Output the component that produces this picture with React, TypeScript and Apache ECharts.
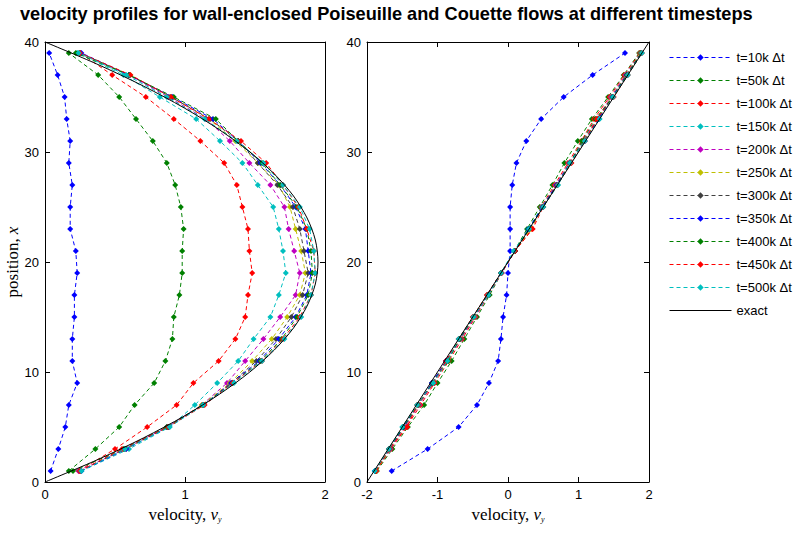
import React, { useEffect, useRef } from 'react';
import * as echarts from 'echarts';

const TITLE = 'velocity profiles for wall-enclosed Poiseuille and Couette flows at different timesteps';
const NAMES = ['t=10k Δt', 't=50k Δt', 't=100k Δt', 't=150k Δt', 't=200k Δt', 't=250k Δt', 't=300k Δt', 't=350k Δt', 't=400k Δt', 't=450k Δt', 't=500k Δt'];
const COLORS = ['#0000FF', '#008000', '#FF0000', '#00BFBF', '#BF00BF', '#BFBF00', '#404040', '#0000FF', '#008000', '#FF0000', '#00BFBF'];

const Y_POS = [1, 3, 5, 7, 9, 11, 13, 15, 17, 19, 21, 23, 25, 27, 29, 31, 33, 35, 37, 39];

// Poiseuille velocity at each position, one array per timestep
const P10 = [0.04, 0.095, 0.145, 0.17, 0.23, 0.195, 0.195, 0.21, 0.21, 0.23, 0.22, 0.18, 0.18, 0.195, 0.17, 0.18, 0.155, 0.14, 0.09, 0.03];
const P50 = [0.17, 0.36, 0.53, 0.64, 0.78, 0.86, 0.91, 0.92, 0.96, 0.98, 0.98, 0.99, 0.97, 0.93, 0.87, 0.77, 0.65, 0.53, 0.38, 0.17];
const P100 = [0.24, 0.5, 0.73, 0.94, 1.06, 1.24, 1.36, 1.43, 1.45, 1.48, 1.46, 1.45, 1.41, 1.37, 1.28, 1.11, 0.92, 0.72, 0.48, 0.25];
const P150 = [0.26, 0.6, 0.89, 1.07, 1.23, 1.38, 1.49, 1.61, 1.67, 1.72, 1.7, 1.67, 1.63, 1.52, 1.41, 1.25, 1.08, 0.82, 0.56, 0.23];
const P200 = [0.24, 0.57, 0.87, 1.12, 1.3, 1.43, 1.56, 1.68, 1.79, 1.82, 1.78, 1.74, 1.71, 1.61, 1.46, 1.32, 1.15, 0.88, 0.6, 0.25];
const P250 = [0.25, 0.58, 0.88, 1.12, 1.32, 1.48, 1.62, 1.73, 1.82, 1.86, 1.83, 1.79, 1.75, 1.67, 1.52, 1.36, 1.17, 0.9, 0.61, 0.25];
const P300 = [0.25, 0.57, 0.88, 1.13, 1.33, 1.51, 1.65, 1.76, 1.84, 1.88, 1.85, 1.82, 1.77, 1.66, 1.52, 1.38, 1.18, 0.9, 0.6, 0.25];
const P350 = [0.26, 0.58, 0.88, 1.13, 1.33, 1.53, 1.67, 1.79, 1.87, 1.9, 1.88, 1.86, 1.79, 1.68, 1.54, 1.38, 1.2, 0.91, 0.6, 0.26];
const P400 = [0.2, 0.56, 0.87, 1.13, 1.34, 1.54, 1.69, 1.8, 1.88, 1.91, 1.9, 1.87, 1.8, 1.68, 1.55, 1.38, 1.22, 0.92, 0.6, 0.22];
const P450 = [0.25, 0.55, 0.88, 1.14, 1.34, 1.55, 1.7, 1.82, 1.9, 1.93, 1.92, 1.87, 1.81, 1.7, 1.58, 1.4, 1.17, 0.9, 0.61, 0.25];
const P500 = [0.26, 0.57, 0.89, 1.13, 1.35, 1.55, 1.71, 1.83, 1.9, 1.93, 1.92, 1.89, 1.82, 1.7, 1.56, 1.37, 1.14, 0.87, 0.58, 0.24];
const EXACT_POS = [0, 2, 4, 6, 8, 10, 12, 14, 16, 18, 20, 22, 24, 26, 28, 30, 32, 34, 36, 38, 40];
const P_EXACT = [0, 0.37, 0.702, 0.995, 1.248, 1.463, 1.638, 1.775, 1.872, 1.931, 1.95, 1.931, 1.872, 1.775, 1.638, 1.463, 1.248, 0.995, 0.702, 0.37, 0];

// Couette velocity at each position, one array per timestep
const C10 = [-1.65, -1.14, -0.7, -0.44, -0.27, -0.14, -0.1, -0.07, -0.02, 0.0, 0.03, 0.03, 0.03, 0.06, 0.12, 0.26, 0.47, 0.79, 1.2, 1.66];
const C50 = [-1.86, -1.64, -1.42, -1.19, -1.0, -0.8, -0.62, -0.44, -0.26, -0.09, 0.09, 0.27, 0.45, 0.63, 0.8, 0.99, 1.19, 1.42, 1.64, 1.86];
const C100 = [-1.87, -1.66, -1.44, -1.24, -1.04, -0.84, -0.65, -0.46, -0.28, -0.09, 0.1, 0.34, 0.47, 0.66, 0.85, 1.04, 1.22, 1.44, 1.65, 1.87];
const C150 = [-1.88, -1.68, -1.47, -1.27, -1.07, -0.87, -0.67, -0.48, -0.29, -0.1, 0.1, 0.29, 0.48, 0.68, 0.87, 1.07, 1.27, 1.47, 1.67, 1.88];
const C200 = [-1.88, -1.67, -1.46, -1.26, -1.06, -0.86, -0.67, -0.47, -0.28, -0.09, 0.1, 0.31, 0.49, 0.68, 0.87, 1.06, 1.26, 1.46, 1.67, 1.88];
const C250 = [-1.87, -1.68, -1.47, -1.27, -1.07, -0.87, -0.68, -0.48, -0.29, -0.1, 0.1, 0.32, 0.49, 0.69, 0.88, 1.08, 1.27, 1.47, 1.68, 1.88];
const C300 = [-1.88, -1.68, -1.48, -1.28, -1.08, -0.88, -0.68, -0.49, -0.29, -0.1, 0.1, 0.3, 0.49, 0.69, 0.89, 1.08, 1.28, 1.48, 1.68, 1.89];
const C350 = [-1.89, -1.69, -1.48, -1.28, -1.08, -0.88, -0.69, -0.49, -0.29, -0.1, 0.1, 0.29, 0.49, 0.69, 0.88, 1.09, 1.29, 1.48, 1.69, 1.89];
const C400 = [-1.88, -1.69, -1.49, -1.28, -1.07, -0.85, -0.69, -0.49, -0.29, -0.1, 0.1, 0.3, 0.5, 0.7, 0.88, 1.05, 1.24, 1.49, 1.69, 1.89];
const C450 = [-1.87, -1.69, -1.43, -1.29, -1.05, -0.88, -0.7, -0.5, -0.3, -0.1, 0.1, 0.35, 0.5, 0.7, 0.9, 1.09, 1.26, 1.5, 1.7, 1.9];
const C500 = [-1.89, -1.69, -1.5, -1.29, -1.06, -0.86, -0.7, -0.49, -0.28, -0.1, 0.08, 0.3, 0.5, 0.71, 0.88, 1.09, 1.3, 1.49, 1.7, 1.9];
const C_EXACT_POS = [0, 40];
const C_EXACT = [-2, 2];

const POISEUILLE = [P10, P50, P100, P150, P200, P250, P300, P350, P400, P450, P500];
const COUETTE = [C10, C50, C100, C150, C200, C250, C300, C350, C400, C450, C500];

const SERIF = 'Liberation Serif, Times New Roman, serif';
const SANS = 'Liberation Sans, Arial, sans-serif';

function timestepSeries(vals: number[], i: number, gridIdx: number) {
  return {
    type: 'line',
    name: NAMES[i],
    xAxisIndex: gridIdx * 2,
    yAxisIndex: gridIdx * 2,
    data: Y_POS.map((y, k) => [vals[k], y]),
    symbol: 'diamond',
    symbolSize: 6,
    showSymbol: true,
    lineStyle: { color: COLORS[i], width: 1, type: [4, 3] },
    itemStyle: { color: COLORS[i] },
    z: 2 + i * 0.01,
    silent: true,
  };
}

function xAxes(gridIndex: number, min: number, max: number, name: string) {
  const base = {
    gridIndex,
    type: 'value',
    min,
    max,
    interval: 1,
    axisLine: { show: true, onZero: false, lineStyle: { color: '#000', width: 1 } },
    axisTick: { show: true, inside: true, length: 5, lineStyle: { color: '#000' } },
    splitLine: { show: false },
  };
  return [
    {
      ...base,
      position: 'bottom',
      axisLabel: { show: true, color: '#000', fontFamily: SANS, fontSize: 13, margin: 6 },
      name,
      nameLocation: 'middle',
      nameGap: 22,
      nameTextStyle: {
        rich: {
          a: { fontFamily: SERIF, fontSize: 17, color: '#000' },
          i: { fontFamily: SERIF, fontSize: 17, fontStyle: 'italic', color: '#000' },
          s: { fontFamily: SERIF, fontSize: 8, fontStyle: 'italic', color: '#000', padding: [10, 0, 0, 0] },
        },
      },
    },
    { ...base, position: 'top', axisLabel: { show: false } },
  ];
}

function yAxes(gridIndex: number, withName: boolean) {
  const base = {
    gridIndex,
    type: 'value',
    min: 0,
    max: 40,
    interval: 10,
    axisLine: { show: true, onZero: false, lineStyle: { color: '#000', width: 1 } },
    axisTick: { show: true, inside: true, length: 5, lineStyle: { color: '#000' } },
    splitLine: { show: false },
  };
  const main: any = {
    ...base,
    position: 'left',
    axisLabel: { show: true, color: '#000', fontFamily: SANS, fontSize: 13, margin: 6 },
  };
  if (withName) {
    main.name = '{a|position, }{i|x}';
    main.nameLocation = 'middle';
    main.nameGap = 22;
    main.nameRotate = 90;
    main.nameTextStyle = {
      rich: {
        a: { fontFamily: SERIF, fontSize: 17, color: '#000' },
        i: { fontFamily: SERIF, fontSize: 17, fontStyle: 'italic', color: '#000' },
      },
    };
  }
  return [main, { ...base, position: 'right', axisLabel: { show: false } }];
}

export default function App() {
  const ref = useRef<HTMLDivElement>(null);
  useEffect(() => {
    const chart = echarts.init(ref.current!, null, { renderer: 'svg' });
    const xName = '{a|velocity, }{i|v}{s|y}';
    const series: any[] = [];
    POISEUILLE.forEach((vals, i) => series.push(timestepSeries(vals, i, 0)));
    series.push({
      type: 'line',
      name: 'exact',
      xAxisIndex: 0,
      yAxisIndex: 0,
      data: EXACT_POS.map((y, k) => [P_EXACT[k], y]),
      symbol: 'none',
      smooth: 0.3,
      lineStyle: { color: '#000', width: 1 },
      itemStyle: { color: '#000' },
      z: 5,
      silent: true,
    });
    COUETTE.forEach((vals, i) => series.push(timestepSeries(vals, i, 1)));
    series.push({
      type: 'line',
      name: 'exact',
      xAxisIndex: 2,
      yAxisIndex: 2,
      data: C_EXACT_POS.map((y, k) => [C_EXACT[k], y]),
      symbol: 'none',
      lineStyle: { color: '#000', width: 1 },
      itemStyle: { color: '#000' },
      z: 5,
      silent: true,
    });
    const legendData: any[] = NAMES.map((n, i) => ({
      name: n,
      itemStyle: { color: COLORS[i] },
      lineStyle: { color: COLORS[i], width: 1, type: [4, 3] },
    }));
    legendData.push({ name: 'exact', itemStyle: { opacity: 0 }, lineStyle: { color: '#000', width: 1, type: 'solid' } });
    chart.setOption({
      animation: false,
      backgroundColor: '#fff',
      title: {
        text: TITLE,
        left: 15,
        top: 0,
        textStyle: { fontFamily: SANS, fontWeight: 'bold', fontSize: 18.2, color: '#000' },
      },
      grid: [
        { left: 45, top: 42, width: 280, height: 440 },
        { left: 367, top: 42, width: 282, height: 440 },
      ],
      xAxis: [...xAxes(0, 0, 2, xName), ...xAxes(1, -2, 2, xName)],
      yAxis: [...yAxes(0, true), ...yAxes(1, false)],
      legend: {
        orient: 'vertical',
        left: 664,
        top: 46,
        itemWidth: 62,
        itemHeight: 8,
        itemGap: 10,
        data: legendData,
        textStyle: { fontFamily: SANS, fontSize: 13, color: '#000' },
        selectedMode: false,
      },
      series,
    });
    return () => chart.dispose();
  }, []);
  return <div ref={ref} style={{ position: 'fixed', left: 0, top: 0, width: 800, height: 533 }} />;
}
